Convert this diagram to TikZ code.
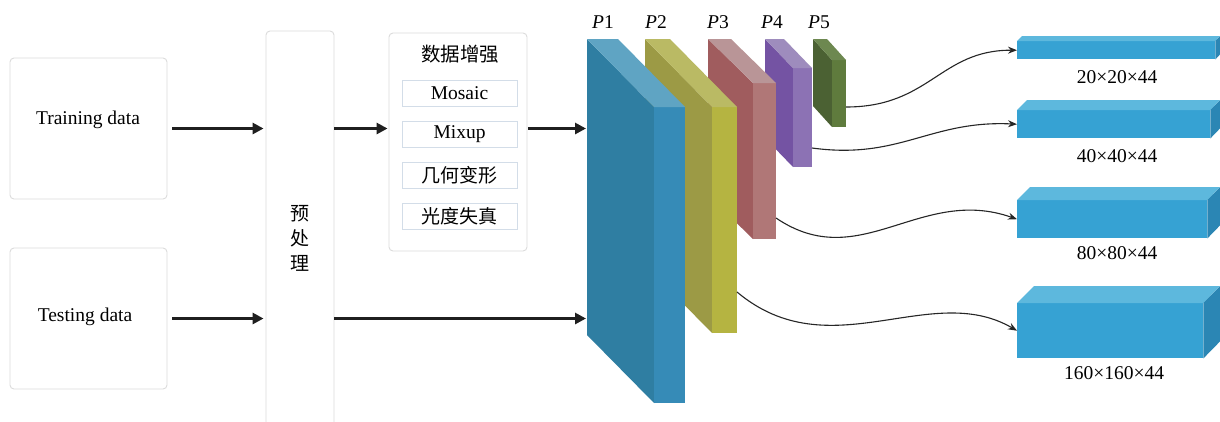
\documentclass[tikz,border=0pt]{standalone}
\usepackage{fontspec}
\setmainfont{Liberation Serif}
\newfontfamily\cjk{Noto Sans CJK SC}
\usetikzlibrary{arrows.meta}
\definecolor{boxgray}{HTML}{DCDCDC}
\definecolor{innerb}{HTML}{D3DDE8}
\definecolor{pAs}{HTML}{2F7EA2}\definecolor{pAf}{HTML}{368BB7}\definecolor{pAt}{HTML}{5FA4C3}
\definecolor{pBs}{HTML}{9C9A45}\definecolor{pBf}{HTML}{B5B441}\definecolor{pBt}{HTML}{BABA64}
\definecolor{pCs}{HTML}{A05C5E}\definecolor{pCf}{HTML}{B07777}\definecolor{pCt}{HTML}{B99597}
\definecolor{pDs}{HTML}{7453A3}\definecolor{pDf}{HTML}{8C72B4}\definecolor{pDt}{HTML}{9E8CBD}
\definecolor{pEs}{HTML}{4B6133}\definecolor{pEf}{HTML}{5F7B3D}\definecolor{pEt}{HTML}{6D8850}
\definecolor{oF}{HTML}{36A2D3}\definecolor{oT}{HTML}{5DB8DD}\definecolor{oS}{HTML}{2B86B4}
% slab: #1 x, #2 w, #3 dx, #4 dy, #5 front bottom, #6 side, #7 front, #8 top
\newcommand\myslab[8]{%
  \fill[#6] (#1,39) -- (#1+#3,39+#4) -- (#1+#3,#5) -- (#1,#5-#4) -- cycle;
  \fill[#7] (#1+#3,39+#4) rectangle (#1+#3+#2,#5);
  \fill[#8] (#1,39) -- (#1+#2,39) -- (#1+#2+#3,39+#4) -- (#1+#3,39+#4) -- cycle;
}
% output box: #1 name, #2 top y, #3 width, #4 height, #5 depth
\newcommand\myobox[5]{%
  \node[outfront, minimum width=#3, minimum height=#4, anchor=north west] (#1) at (1017,#2) {};
  \fill[oT] (#1.north west) -- ++(#5,-#5) -- ++(#3,0) -- (#1.north east) -- cycle;
  \fill[oS] (#1.north east) -- ++(#5,-#5) -- ++(0,#4) -- (#1.south east) -- cycle;
}
\begin{document}
\begin{tikzpicture}[x=1pt,y=-1pt,
  font=\fontsize{19.5}{22}\selectfont,
  outerbox/.style={draw=boxgray, line width=0.9pt, rounded corners=4pt, fill=white, inner sep=0pt},
  innerbox/.style={draw=innerb, line width=0.9pt, fill=white, inner sep=0pt, minimum width=115pt, minimum height=26pt},
  bigarrow/.style={line width=3.5pt, draw=black!88, -{Triangle[length=11pt,width=11pt]}},
  curvearrow/.style={line width=1.1pt, draw=black!85, -{Stealth[length=9pt,width=7pt]}},
  outfront/.style={fill=oF, inner sep=0pt, draw=none},
  dimlbl/.style={font=\fontsize{19.5}{22}\selectfont}
]
\useasboundingbox (0,0) rectangle (1220,421);
\fill[white] (0,0) rectangle (1220,421);

% input boxes
\node[outerbox, minimum width=157pt, minimum height=141pt] (train) at (88.5,128.5) {};
\node (trainlbl) at (88,120) {Training data};
\node[outerbox, minimum width=157pt, minimum height=141pt] (test) at (88.5,318.5) {};
\node (testlbl) at (85,317) {Testing data};

% preprocessing
\node[outerbox, minimum width=68pt, minimum height=409pt] (pre) at (300,235.5) {};
\node[align=center, font=\cjk\fontsize{19}{25}\selectfont] (prelbl) at (300,238) {预\\处\\理};

% augmentation
\node[outerbox, minimum width=138pt, minimum height=218pt] (aug) at (458,142) {};
\node[font=\cjk\fontsize{19.5}{22}\selectfont] (augt) at (460,54) {数据增强};
\node[innerbox] (mosaic) at (459.5,93) {Mosaic};
\node[innerbox] (mixup) at (459.5,134.5) {Mixup};
\node[innerbox, font=\cjk\fontsize{19}{22}\selectfont] (geo) at (459.5,175.5) {几何变形};
\node[innerbox, font=\cjk\fontsize{19}{22}\selectfont] (photo) at (459.5,216) {光度失真};

% feature slabs (back to front)
\myslab{813}{14}{19}{21}{127}{pEs}{pEf}{pEt}
\myslab{765}{19}{28}{29}{167}{pDs}{pDf}{pDt}
\myslab{708}{23}{45}{44}{239}{pCs}{pCf}{pCt}
\myslab{645}{25}{67}{68}{333}{pBs}{pBf}{pBt}
\myslab{587}{31}{67}{68}{403}{pAs}{pAf}{pAt}

\node (l1) at (603,22) {\textit{P}1};
\node (l2) at (656,22) {\textit{P}2};
\node (l3) at (718,22) {\textit{P}3};
\node (l4) at (772,22) {\textit{P}4};
\node (l5) at (819,22) {\textit{P}5};

\coordinate (p1a) at (587,128.5);
\coordinate (p1b) at (587,318.5);
\coordinate (p5r) at (846,107);
\coordinate (p4r) at (812,148);
\coordinate (p3r) at (776,218);
\coordinate (p2r) at (737,292);

% output boxes
\myobox{o1}{41}{198}{18}{5}
\myobox{o2}{110}{193}{28}{10}
\myobox{o3}{200}{190}{38}{13}
\myobox{o4}{303}{186}{55}{17}
\node[dimlbl] (d1) at (1117,77) {20×20×44};
\node[dimlbl] (d2) at (1117,156) {40×40×44};
\node[dimlbl] (d3) at (1117,253) {80×80×44};
\node[dimlbl] (d4) at (1114,373) {160×160×44};

% arrows
\draw[bigarrow, shorten <=5pt, shorten >=2pt] (train.east) -- (pre.west |- train.east);
\draw[bigarrow, shorten <=5pt, shorten >=2pt] (test.east) -- (pre.west |- test.east);
\draw[bigarrow, shorten >=1pt] (pre.east |- train.east) -- (aug.west |- train.east);
\draw[bigarrow, shorten <=1pt, shorten >=1pt] (aug.east |- train.east) -- (p1a);
\draw[bigarrow, shorten >=1pt] (pre.east |- test.east) -- (p1b);

% curves
\draw[curvearrow] (p5r) .. controls (930,107) and (940,50) .. (o1.west);
\draw[curvearrow] (p4r) .. controls (900,160) and (930,120) .. (o2.west);
\draw[curvearrow] (p3r) .. controls (860,275) and (920,185) .. (o3.west);
\draw[curvearrow] (p2r) .. controls (830,370) and (930,280) .. (o4.west);
\end{tikzpicture}
\end{document}
